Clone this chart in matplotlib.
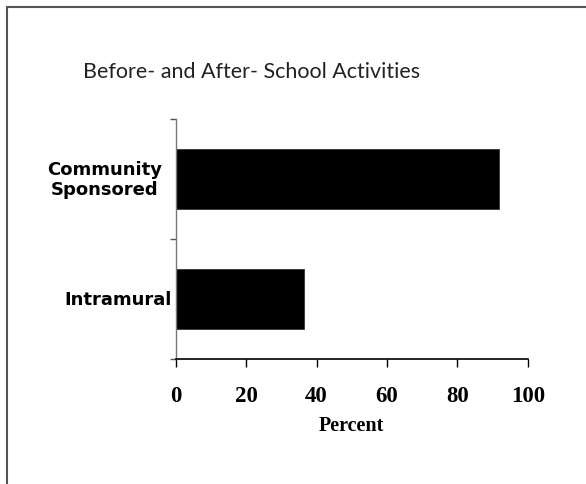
import matplotlib
matplotlib.use("Agg")
import matplotlib.pyplot as plt
from matplotlib.patches import Rectangle
from matplotlib.transforms import blended_transform_factory, ScaledTranslation

categories = ["Intramural", "Community\nSponsored"]
percent = [36.4, 91.8]
xticks = [0, 20, 40, 60, 80, 100]

W, H, DPI = 586, 485, 100
fig = plt.figure(figsize=(W / DPI, H / DPI), dpi=DPI)
fig.patch.set_facecolor("white")

# frame around the chart (only top and left edges fall inside the canvas)
fig.add_artist(Rectangle((6.5 / W, -0.1), 1.2, 1 - 8.3 / H + 0.1,
                         transform=fig.transFigure, fill=False,
                         edgecolor="#555555", linewidth=1.5))

ax = fig.add_axes([175.7 / W, 1 - 360 / H, 352 / W, 240 / H])
ypos = list(range(len(categories)))
ax.barh(ypos, percent, height=0.5, color="black", edgecolor="#333333", linewidth=0.6)

ax.set_xlim(0, 100)
ax.set_ylim(-0.5, len(categories) - 0.5)
for s in ("top", "right"):
    ax.spines[s].set_visible(False)
ax.spines["left"].set_color("#777777")
ax.spines["left"].set_linewidth(1.0)
ax.spines["bottom"].set_color("black")
ax.spines["bottom"].set_linewidth(1.2)

ax.set_xticks(xticks)
ax.set_xticklabels([str(t) for t in xticks], fontfamily="Liberation Serif",
                   fontweight="bold", fontsize=16.5)
ax.tick_params(axis="x", direction="out", length=6, width=1.0, pad=13, color="black")

ax.set_yticks([y - 0.5 for y in range(len(categories) + 1)])
ax.set_yticklabels([])
ax.tick_params(axis="y", direction="out", length=4, width=1.0, color="#555555")

ax.set_xlabel("Percent", fontfamily="Liberation Serif", fontweight="bold",
              fontsize=14.5, labelpad=6)

# category labels beside the bars
trans = blended_transform_factory(ax.transAxes, ax.transData)
offsets = [-4 / DPI, -14 / DPI]
for y, lab, off in zip(ypos, categories, offsets):
    t = trans + ScaledTranslation(off, 0, fig.dpi_scale_trans)
    ax.text(0, y, lab, transform=t, ha="right", va="center", multialignment="center",
            fontfamily="DejaVu Sans", fontweight="bold", fontsize=13, linespacing=1.12)

fig.text(252 / W, 1 - 72 / H, "Before- and After- School Activities",
         ha="center", va="center", fontfamily="Lato", fontweight="normal",
         fontsize=15.5, color="#222222")

fig.savefig("out.png", dpi=DPI, facecolor="white")
